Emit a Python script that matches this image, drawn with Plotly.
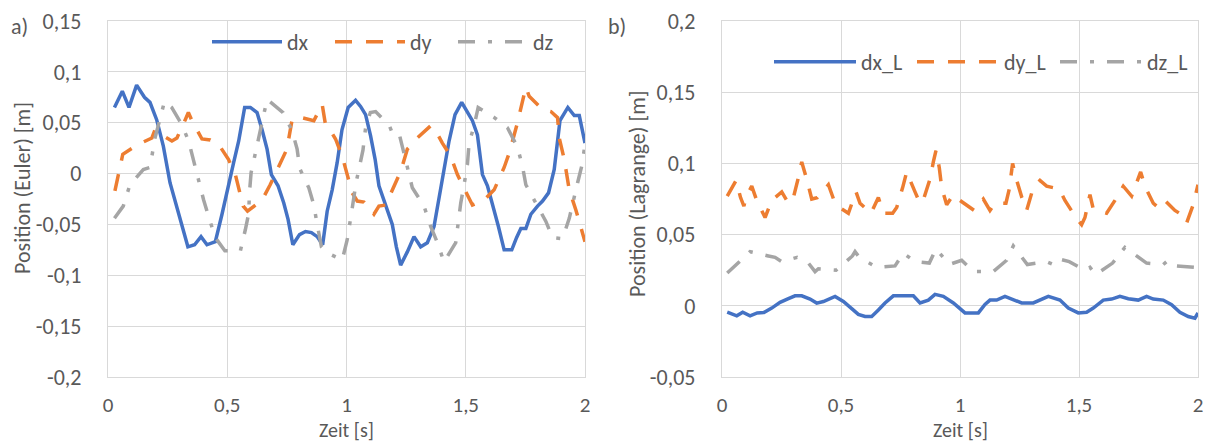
import plotly.graph_objects as go

# ---------------- data ----------------
t_dx = [0.027,0.06,0.088,0.12,0.153,0.176,0.204,0.232,0.26,0.28,0.31,0.335,0.363,0.39,0.415,0.45,0.478,0.503,0.527,0.548,
        0.573,0.597,0.625,0.646,0.667,0.685,0.713,0.737,0.755,0.775,0.803,0.828,0.853,0.877,0.9,0.919,0.94,0.961,0.981,1.007,
        1.038,1.059,1.08,1.101,1.12,1.136,1.157,1.171,1.192,1.209,1.227,1.255,1.283,1.311,1.339,1.367,1.388,1.409,1.43,1.455,
        1.483,1.507,1.528,1.549,1.57,1.591,1.612,1.637,1.661,1.693,1.713,1.731,1.752,1.773,1.801,1.822,1.847,1.871,1.895,1.928,
        1.955,1.976,2.0]
dx = [0.065,0.081,0.065,0.087,0.075,0.070,0.053,0.027,-0.009,-0.026,-0.049,-0.072,-0.070,-0.062,-0.070,-0.067,-0.040,-0.012,0.011,0.032,
      0.065,0.065,0.060,0.043,0.024,-0.001,-0.012,-0.029,-0.045,-0.070,-0.060,-0.057,-0.058,-0.062,-0.070,-0.037,-0.016,0.011,0.043,0.065,
      0.072,0.066,0.058,0.037,0.014,-0.012,-0.026,-0.037,-0.050,-0.072,-0.090,-0.077,-0.062,-0.072,-0.068,-0.052,-0.026,0.004,0.032,0.058,
      0.070,0.061,0.052,0.038,-0.001,-0.012,-0.029,-0.052,-0.075,-0.075,-0.063,-0.054,-0.054,-0.040,-0.032,-0.027,-0.019,0.004,0.052,0.065,
      0.057,0.057,0.030]

t_dy = [0.029,0.043,0.062,0.121,0.184,0.197,0.226,0.268,0.289,0.324,0.337,0.352,0.394,0.429,0.463,0.505,0.534,0.555,0.567,0.585,
        0.646,0.68,0.716,0.75,0.772,0.793,0.863,0.898,0.912,0.933,0.954,0.982,1.003,1.024,1.045,1.073,1.115,1.136,1.164,1.2,
        1.227,1.255,1.297,1.353,1.374,1.402,1.437,1.465,1.5,1.528,1.577,1.619,1.661,1.682,1.717,1.752,1.766,1.822,1.857,1.885,
        1.892,1.913,1.934,1.962,2.0]
dy = [-0.017,-0.001,0.019,0.028,0.035,0.043,0.038,0.032,0.035,0.053,0.060,0.052,0.034,0.033,0.029,0.014,-0.001,-0.021,-0.032,-0.037,
      -0.026,-0.011,0.007,0.024,0.053,0.056,0.052,0.068,0.048,0.042,0.034,0.017,-0.001,-0.019,-0.027,-0.028,-0.040,-0.032,-0.031,-0.012,
      0.002,0.024,0.035,0.047,0.042,0.030,0.017,-0.001,-0.017,-0.031,-0.026,-0.016,0.006,0.020,0.050,0.085,0.076,0.063,0.061,0.055,
      0.035,0.014,-0.016,-0.036,-0.067]

t_dz = [0.027,0.064,0.092,0.148,0.176,0.197,0.225,0.237,0.267,0.31,0.338,0.359,0.38,0.401,0.424,0.45,0.49,0.555,0.576,0.59,
        0.593,0.6,0.615,0.634,0.653,0.667,0.734,0.772,0.793,0.804,0.842,0.863,0.877,0.895,0.92,0.982,1.003,1.012,1.024,1.04,
        1.05,1.069,1.08,1.1,1.122,1.18,1.192,1.22,1.241,1.262,1.276,1.325,1.353,1.381,1.409,1.437,1.458,1.468,1.479,1.493,
        1.507,1.514,1.535,1.552,1.62,1.675,1.717,1.738,1.752,1.794,1.836,1.864,1.906,1.934,1.948,1.969,1.99,2.0]
dz = [-0.044,-0.032,-0.011,0.004,0.006,0.035,0.060,0.071,0.065,0.048,0.032,0.012,-0.009,-0.026,-0.044,-0.063,-0.076,-0.076,-0.055,-0.039,
      -0.019,0.001,0.017,0.037,0.060,0.073,0.060,0.042,0.024,0.005,-0.014,-0.031,-0.050,-0.072,-0.078,-0.085,-0.065,-0.053,-0.034,-0.009,
      0.002,0.023,0.045,0.060,0.061,0.047,0.040,0.040,0.020,0.001,-0.014,-0.032,-0.052,-0.068,-0.087,-0.076,-0.068,-0.049,-0.029,-0.011,
      0.009,0.030,0.047,0.065,0.055,0.045,0.026,0.007,-0.011,-0.029,-0.047,-0.063,-0.064,-0.044,-0.029,-0.009,0.011,0.030]

t_dxL = [0.022,0.062,0.087,0.118,0.148,0.176,0.209,0.244,0.279,0.307,0.335,0.37,0.398,0.426,0.475,0.51,0.545,0.573,0.601,0.629,
         0.657,0.685,0.72,0.755,0.804,0.832,0.867,0.895,0.93,0.972,1.0,1.021,1.077,1.105,1.126,1.154,1.189,1.224,1.259,1.308,
         1.371,1.42,1.455,1.497,1.532,1.56,1.602,1.637,1.672,1.707,1.749,1.784,1.812,1.854,1.889,1.924,1.959,1.987,2.0]
dxL = [-0.0045,-0.007,-0.0045,-0.007,-0.005,-0.0047,-0.0016,0.0024,0.005,0.007,0.007,0.0047,0.0019,0.003,0.0066,0.003,-0.002,-0.006,-0.0075,-0.0075,
       -0.003,0.002,0.007,0.007,0.007,0.002,0.004,0.008,0.0066,0.002,-0.0016,-0.005,-0.005,0.001,0.004,0.004,0.0066,0.004,0.002,0.002,
       0.0066,0.004,-0.0016,-0.005,-0.0045,-0.0016,0.004,0.0047,0.0066,0.005,0.004,0.0066,0.0047,0.004,0.0007,-0.0045,-0.0075,-0.0087,-0.005]

t_dyL = [0.022,0.059,0.078,0.092,0.1,0.125,0.146,0.181,0.209,0.251,0.279,0.3,0.321,0.335,0.359,0.377,0.4,0.447,0.475,0.503,
         0.531,0.563,0.58,0.626,0.657,0.678,0.717,0.734,0.759,0.776,0.811,0.832,0.849,0.874,0.888,0.899,0.913,0.923,0.944,0.972,
         1.0,1.059,1.098,1.126,1.147,1.193,1.207,1.221,1.235,1.26,1.28,1.308,1.336,1.364,1.417,1.441,1.487,1.511,1.525,1.546,
         1.56,1.616,1.651,1.686,1.721,1.759,1.777,1.812,1.833,1.861,1.903,1.931,1.952,1.98,2.0]
dyL = [0.077,0.088,0.076,0.070,0.076,0.084,0.074,0.062,0.074,0.080,0.072,0.076,0.090,0.101,0.087,0.075,0.076,0.085,0.072,0.068,
       0.065,0.080,0.072,0.065,0.076,0.065,0.065,0.069,0.083,0.094,0.080,0.072,0.076,0.089,0.101,0.109,0.097,0.083,0.071,0.078,
       0.074,0.067,0.075,0.067,0.072,0.072,0.082,0.100,0.090,0.076,0.067,0.083,0.088,0.084,0.082,0.074,0.062,0.057,0.062,0.078,
       0.068,0.065,0.074,0.084,0.077,0.094,0.084,0.072,0.069,0.074,0.067,0.064,0.058,0.071,0.085]

t_dzL = [0.022,0.069,0.118,0.195,0.223,0.251,0.316,0.363,0.391,0.405,0.479,0.548,0.559,0.577,0.65,0.727,0.762,0.811,0.871,0.899,
         0.955,1.007,1.056,1.14,1.196,1.224,1.283,1.364,1.392,1.413,1.459,1.525,1.546,1.571,1.641,1.693,1.742,1.784,1.854,1.875,
         1.91,1.983,2.0]
dzL = [0.023,0.030,0.038,0.035,0.034,0.031,0.034,0.030,0.024,0.026,0.025,0.035,0.038,0.034,0.027,0.028,0.037,0.031,0.030,0.040,
       0.029,0.032,0.024,0.024,0.032,0.042,0.029,0.031,0.029,0.033,0.031,0.025,0.027,0.022,0.030,0.041,0.035,0.030,0.029,0.032,
       0.028,0.027,0.028]

x_ticks = [0, 0.5, 1, 1.5, 2]
x_ticktext = ["0", "0,5", "1", "1,5", "2"]
yL_ticks = [-0.2, -0.15, -0.1, -0.05, 0, 0.05, 0.1, 0.15]
yL_ticktext = ["-0,2", "-0,15", "-0,1", "-0,05", "0", "0,05", "0,1", "0,15"]
yR_ticks = [-0.05, 0, 0.05, 0.1, 0.15, 0.2]
yR_ticktext = ["-0,05", "0", "0,05", "0,1", "0,15", "0,2"]

# ---------------- styling ----------------
W, H = 1206, 443
FONT = "Carlito, Lato, sans-serif"
TXT = "#595959"
GRID = "#D9D9D9"
BLUE, ORANGE, GRAY = "#4472C4", "#ED7D31", "#A5A5A5"
LW = 3.5
DASH = "17px,14px"
DASHDOT = "17px,13px,4px,13px"
FS = 22

def px(x):
    return x / W

def py(y):
    return 1 - y / H

fig = go.Figure()
series = [
    (t_dx, dx, "dx", BLUE, "solid", "x", "y", "legend"),
    (t_dy, dy, "dy", ORANGE, DASH, "x", "y", "legend"),
    (t_dz, dz, "dz", GRAY, DASHDOT, "x", "y", "legend"),
    (t_dxL, dxL, "dx_L", BLUE, "solid", "x2", "y2", "legend2"),
    (t_dyL, dyL, "dy_L", ORANGE, DASH, "x2", "y2", "legend2"),
    (t_dzL, dzL, "dz_L", GRAY, DASHDOT, "x2", "y2", "legend2"),
]
for tx, vy, name, col, dash, xa, ya, lg in series:
    fig.add_trace(go.Scatter(x=tx, y=vy, name=name, mode="lines",
                             line=dict(color=col, width=LW, dash=dash),
                             xaxis=xa, yaxis=ya, legend=lg))

ydom = [py(377), py(21)]
axis_common = dict(showgrid=True, gridcolor=GRID, gridwidth=1.3, zeroline=False,
                   showline=True, linecolor=GRID, linewidth=1.3, mirror=True,
                   ticks="", automargin=False)
xtickfont = dict(family=FONT, size=21, color=TXT)
ytickfont = dict(family=FONT, size=FS, color=TXT)
fig.update_layout(
    width=W, height=H, margin=dict(l=0, r=0, t=0, b=0, pad=0, autoexpand=False),
    paper_bgcolor="white", plot_bgcolor="white",
    font=dict(family=FONT, color=TXT),
    xaxis=dict(domain=[px(108), px(585)], range=[0, 2], tickvals=x_ticks, ticktext=x_ticktext,
               anchor="y", ticklabelstandoff=9, tickfont=xtickfont, **axis_common),
    yaxis=dict(domain=ydom, range=[-0.2, 0.15], tickvals=yL_ticks, ticktext=yL_ticktext,
               anchor="x", ticklabelstandoff=21, tickfont=ytickfont, **axis_common),
    xaxis2=dict(domain=[px(722), px(1198)], range=[0, 2], tickvals=x_ticks, ticktext=x_ticktext,
                anchor="y2", ticklabelstandoff=9, tickfont=xtickfont, **axis_common),
    yaxis2=dict(domain=ydom, range=[-0.05, 0.2], tickvals=yR_ticks, ticktext=yR_ticktext,
                anchor="x2", ticklabelstandoff=21, tickfont=ytickfont, **axis_common),
    legend=dict(orientation="h", x=px(207), y=py(42), xanchor="left", yanchor="middle",
                bgcolor="rgba(0,0,0,0)", font=dict(family=FONT, size=FS, color=TXT),
                itemwidth=70, entrywidth=38, entrywidthmode="pixels"),
    legend2=dict(orientation="h", x=px(769), y=py(62), xanchor="left", yanchor="middle",
                 bgcolor="rgba(0,0,0,0)", font=dict(family=FONT, size=FS, color=TXT),
                 itemwidth=82, entrywidth=46, entrywidthmode="pixels"),
    showlegend=True,
)

ann = [
    dict(text="a)", x=px(10), y=py(26), xanchor="left", yanchor="middle", size=FS),
    dict(text="b)", x=px(607), y=py(27), xanchor="left", yanchor="middle", size=FS),
    dict(text="Zeit [s]", x=px(346), y=py(443), xanchor="center", yanchor="bottom", size=20),
    dict(text="Zeit [s]", x=px(960), y=py(443), xanchor="center", yanchor="bottom", size=20),
]
for a in ann:
    fig.add_annotation(text=a["text"], x=a["x"], y=a["y"], xref="paper", yref="paper",
                       xanchor=a["xanchor"], yanchor=a["yanchor"], showarrow=False,
                       borderpad=0, font=dict(family=FONT, size=a["size"], color=TXT))
fig.add_annotation(text="Position (Euler) [m]", x=px(22), y=py(188), xref="paper", yref="paper",
                   textangle=-90, showarrow=False, xanchor="center", yanchor="middle",
                   font=dict(family=FONT, size=FS, color=TXT))
fig.add_annotation(text="Position (Lagrange) [m]", x=px(638), y=py(194), xref="paper", yref="paper",
                   textangle=-90, showarrow=False, xanchor="center", yanchor="middle",
                   font=dict(family=FONT, size=FS, color=TXT))

fig.write_html("out.html")
